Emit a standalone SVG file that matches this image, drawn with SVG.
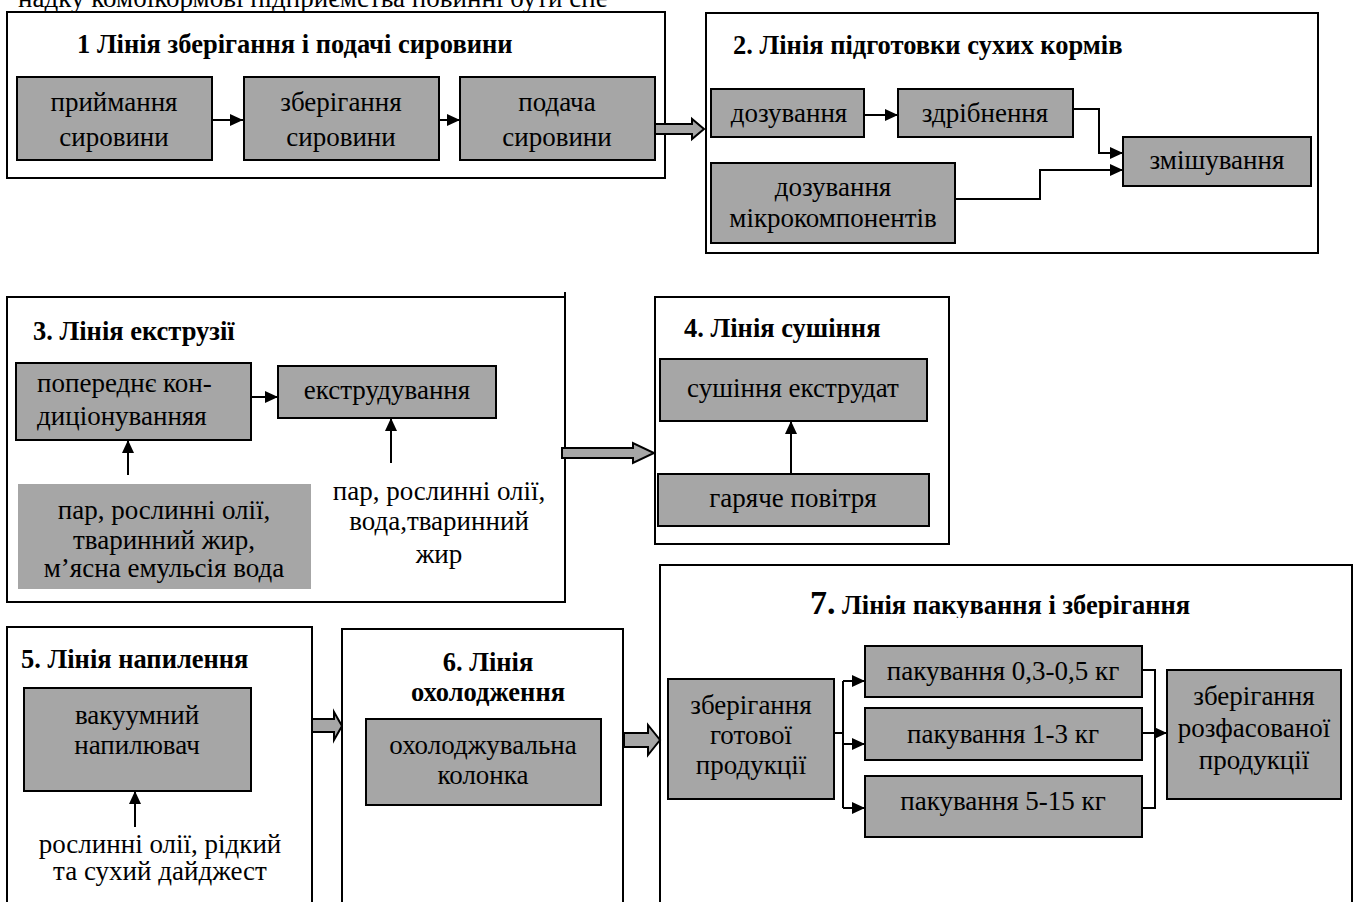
<svg xmlns="http://www.w3.org/2000/svg" width="1357" height="902" viewBox="0 0 1357 902">
<style>
.frame{fill:#fff;stroke:#000;stroke-width:2}
.box{fill:#a6a6a6;stroke:#000;stroke-width:2}
.fill{fill:#a6a6a6;stroke:none}
.blk{fill:#a6a6a6;stroke:#000;stroke-width:2;stroke-linejoin:miter}
.ln{fill:none;stroke:#000;stroke-width:2}
.ar{fill:none;stroke:#000;stroke-width:2;marker-end:url(#ah)}
text{font-family:"Liberation Serif","Times New Roman",serif;fill:#000}
.t{font-size:27px;text-anchor:middle}
.tl{font-size:27px}
.h{font-size:26.5px;font-weight:bold}
.hc{font-size:26.5px;font-weight:bold;text-anchor:middle}
</style>
<defs>
<marker id="ah" markerUnits="userSpaceOnUse" markerWidth="14" markerHeight="14" refX="13" refY="7" orient="auto"><path d="M0,1 L13,7 L0,13 z" fill="#000"/></marker>
<clipPath id="c7"><rect x="660" y="560" width="700" height="58"/></clipPath>
</defs>
<rect width="1357" height="902" fill="#fff"/>
<text x="18" y="7" class="tl">надку комбікормові підприємства повинні бути спе</text>

<g id="line1">
<rect class="frame" x="7" y="12" width="658" height="166"/>
<text class="h" x="77" y="53">1 Лінія зберігання і подачі сировини</text>
</g>
<g id="n-pryimannia"><rect class="box" x="17" y="77" width="195" height="83"/><text class="t" x="114" y="111">приймання</text><text class="t" x="114" y="146">сировини</text></g>
<g id="n-zberigannia"><rect class="box" x="244" y="77" width="195" height="83"/><text class="t" x="341" y="111">зберігання</text><text class="t" x="341" y="146">сировини</text></g>
<g id="n-podacha"><rect class="box" x="460" y="77" width="195" height="83"/><text class="t" x="557" y="111">подача</text><text class="t" x="557" y="146">сировини</text></g>

<g id="line2">
<rect class="frame" x="706" y="13" width="612" height="240"/>
<text class="h" x="733" y="54">2. Лінія підготовки сухих кормів</text>
</g>
<g id="n-dozuvannia"><rect class="box" x="711" y="89" width="153" height="48"/><text class="t" x="789" y="122">дозування</text></g>
<g id="n-zdribnennia"><rect class="box" x="898" y="89" width="175" height="48"/><text class="t" x="985" y="122">здрібнення</text></g>
<g id="n-mikro"><rect class="box" x="711" y="163" width="244" height="80"/><text class="t" x="833" y="196">дозування</text><text class="t" x="833" y="227">мікрокомпонентів</text></g>
<g id="n-zmishuvannia"><rect class="box" x="1123" y="137" width="188" height="49"/><text class="t" x="1217" y="169">змішування</text></g>

<g id="line3">
<path class="frame" d="M7,297 H565 V602 H7 Z"/>
<path class="ln" d="M565,292 V297"/>
<text class="h" x="33" y="340">3. Лінія екструзії</text>
</g>
<g id="n-kond"><rect class="box" x="16" y="363" width="235" height="77"/><text class="tl" x="37" y="392">попереднє кон-</text><text class="tl" x="37" y="425">диціонуванняя</text></g>
<g id="n-ekstr"><rect class="box" x="278" y="366" width="218" height="52"/><text class="t" x="387" y="399">екструдування</text></g>
<g id="n-par1"><rect class="fill" x="18" y="484" width="293" height="105"/><text class="t" x="164" y="519">пар, рослинні олії,</text><text class="t" x="164" y="549">тваринний жир,</text><text class="t" x="164" y="577">м’ясна емульсія вода</text></g>
<g id="n-par2"><text class="t" x="439" y="500">пар, рослинні олії,</text><text class="t" x="439" y="530">вода,тваринний</text><text class="t" x="439" y="563">жир</text></g>

<g id="line4">
<rect class="frame" x="655" y="297" width="294" height="247"/>
<text class="h" x="684" y="337">4. Лінія сушіння</text>
</g>
<g id="n-sushinnia"><rect class="box" x="660" y="359" width="267" height="62"/><text class="t" x="793" y="397">сушіння екструдат</text></g>
<g id="n-povitria"><rect class="box" x="658" y="474" width="271" height="52"/><text class="t" x="793" y="507">гаряче повітря</text></g>

<g id="line5">
<path class="frame" d="M7,910 V627 H312 V910"/>
<text class="h" x="21" y="668">5. Лінія напилення</text>
</g>
<g id="n-vakuum"><rect class="box" x="24" y="688" width="227" height="103"/><text class="t" x="137" y="724">вакуумний</text><text class="t" x="137" y="754">напилювач</text></g>
<g id="n-oliyi"><text class="t" x="160" y="853">рослинні олії, рідкий</text><text class="t" x="160" y="880">та сухий дайджест</text></g>

<g id="line6">
<path class="frame" d="M342,910 V629 H623 V910"/>
<text class="hc" x="488" y="671">6. Лінія</text>
<text class="hc" x="488" y="701">охолодження</text>
</g>
<g id="n-kolonka"><rect class="box" x="366" y="719" width="235" height="86"/><text class="t" x="483" y="754">охолоджувальна</text><text class="t" x="483" y="784">колонка</text></g>

<g id="line7">
<path class="frame" d="M660,910 V565 H1352 V910"/>
<text class="hc" x="1000" y="614" clip-path="url(#c7)"><tspan style="font-size:34px">7.</tspan> Лінія пакування і зберігання</text>
</g>
<g id="n-gotova"><rect class="box" x="668" y="679" width="166" height="120"/><text class="t" x="751" y="714">зберігання</text><text class="t" x="751" y="744">готової</text><text class="t" x="751" y="774">продукції</text></g>
<g id="n-pak1"><rect class="box" x="865" y="646" width="277" height="51"/><text class="t" x="1003" y="680">пакування 0,3-0,5 кг</text></g>
<g id="n-pak2"><rect class="box" x="865" y="708" width="277" height="52"/><text class="t" x="1003" y="743">пакування 1-3 кг</text></g>
<g id="n-pak3"><rect class="box" x="865" y="776" width="277" height="61"/><text class="t" x="1003" y="810">пакування 5-15 кг</text></g>
<g id="n-rozfas"><rect class="box" x="1167" y="670" width="174" height="129"/><text class="t" x="1254" y="705">зберігання</text><text class="t" x="1254" y="737">розфасованої</text><text class="t" x="1254" y="769">продукції</text></g>

<g id="connectors">
<path class="ar" d="M212,120 H243"/>
<path class="ar" d="M439,120 H460"/>
<polygon class="blk" points="655,124 692,124 692,119 704,129 692,139 692,134 655,134"/>
<path class="ar" d="M864,115 H898"/>
<path class="ar" d="M1073,109 H1099 V153 H1123"/>
<path class="ar" d="M955,199 H1040 V170 H1123"/>
<path class="ar" d="M251,397 H278"/>
<path class="ar" d="M391,463 V418"/>
<path class="ar" d="M128,475 V440"/>
<polygon class="blk" points="562,448 633,448 633,443 654,453 633,463 633,458 562,458"/>
<path class="ar" d="M791,473 V421"/>
<polygon class="blk" points="312,719 334,719 334,712 342,726 334,740 334,732 312,732"/>
<path class="ar" d="M135,827 V791"/>
<polygon class="blk" points="624,733 648,733 648,725 660,740 648,755 648,747 624,747"/>
<path class="ln" d="M834,733 H843 M843,681 V808"/>
<path class="ar" d="M843,681 H865"/>
<path class="ar" d="M843,744 H865"/>
<path class="ar" d="M843,808 H865"/>
<path class="ln" d="M1142,670 H1155 V808 H1142"/>
<path class="ar" d="M1142,733 H1167"/>
</g>
</svg>
